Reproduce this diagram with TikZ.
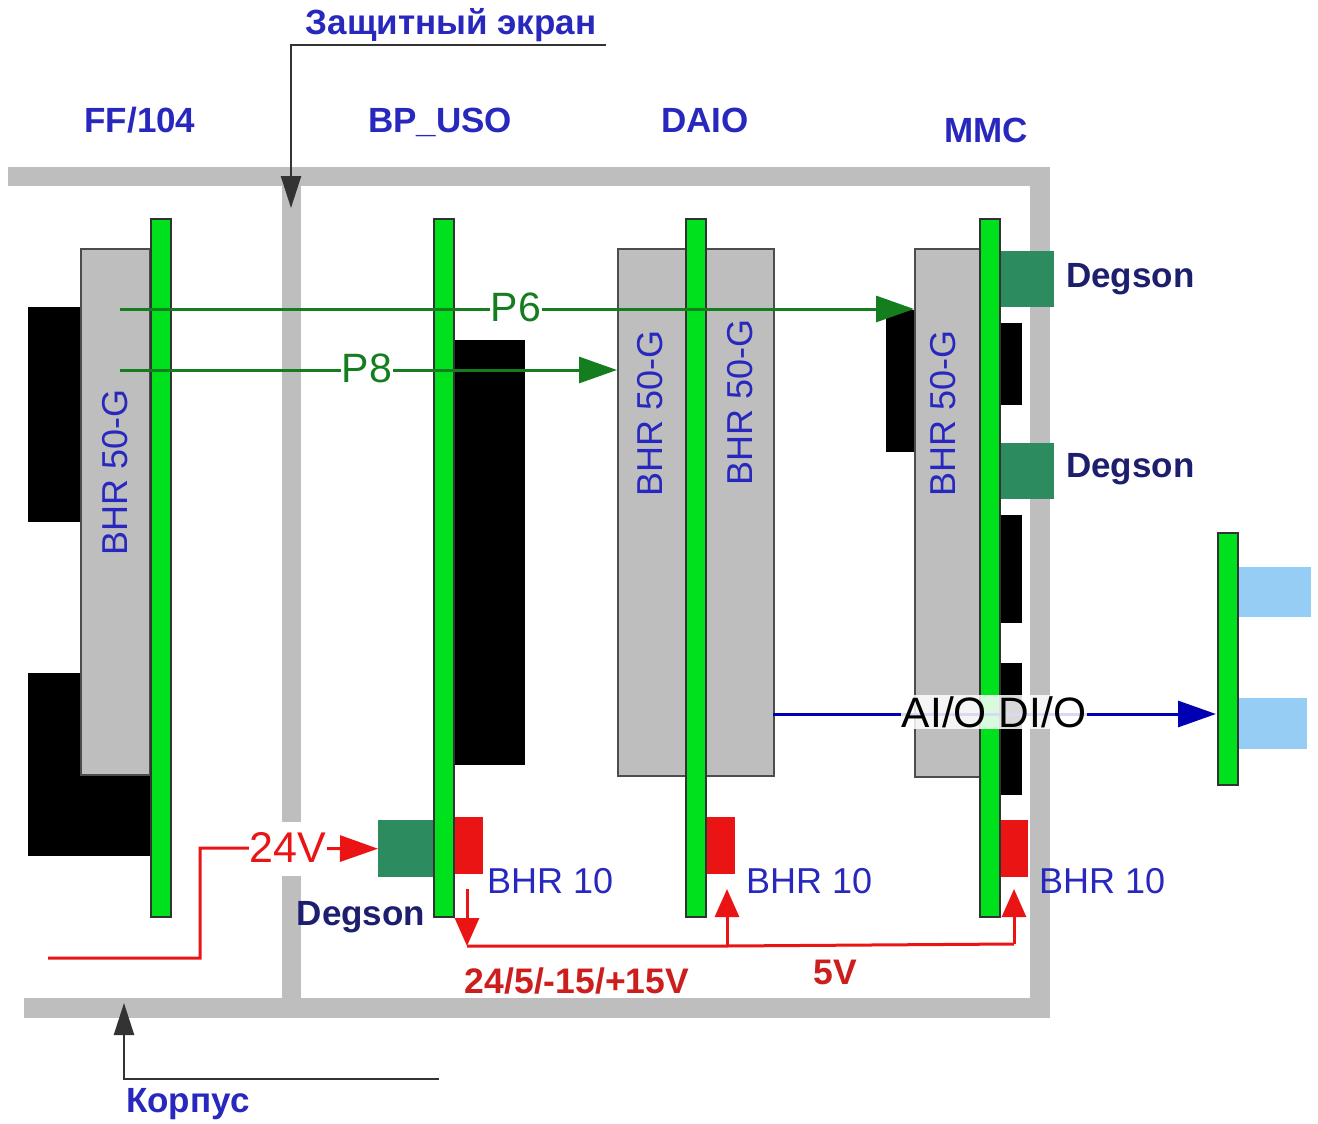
\documentclass[tikz,border=0pt]{standalone}
\usepackage{fontspec}
\setmainfont{Liberation Sans}
\usetikzlibrary{arrows.meta}
\definecolor{fr}{RGB}{190,190,190}
\definecolor{brd}{RGB}{0,225,30}
\definecolor{mod}{RGB}{190,190,190}
\definecolor{dg}{RGB}{45,140,95}
\definecolor{lb}{RGB}{150,205,245}
\definecolor{tblue}{RGB}{40,40,190}
\definecolor{nav}{RGB}{30,30,110}
\definecolor{dgreen}{RGB}{20,125,30}
\definecolor{rd}{RGB}{235,20,20}
\definecolor{drd}{RGB}{205,30,30}
\tikzset{
 x=1pt,y=-1pt,
 frameb/.style={fill=fr,draw=none},
 boardb/.style={fill=brd,draw=black!80,line width=2.2pt},
 modb/.style={fill=mod,draw=black!70,line width=1.6pt},
 blk/.style={fill=black,draw=none},
 dgb/.style={fill=dg,draw=none},
 rdb/.style={fill=rd,draw=none},
 lbb/.style={fill=lb,draw=none},
 ttl/.style={text=tblue,font=\bfseries\fontsize{35}{35}\selectfont,inner sep=0pt},
 bhr/.style={text=tblue,font=\fontsize{36}{36}\selectfont,inner sep=0pt,rotate=90},
 bhrh/.style={text=tblue,font=\fontsize{36}{36}\selectfont,inner sep=0pt,anchor=west},
 dgs/.style={text=nav,font=\bfseries\fontsize{35}{35}\selectfont,inner sep=0pt},
 rlab/.style={text=drd,font=\bfseries\fontsize{35.5}{35.5}\selectfont,inner sep=0pt},
 glab/.style={text=dgreen,font=\fontsize{41}{41}\selectfont,fill=white,inner sep=1pt},
 garr/.style={draw=dgreen,line width=3pt,-{Triangle[length=38pt,width=26pt]}},
 rarr/.style={draw=rd,line width=3pt,-{Triangle[length=28pt,width=24pt]}},
 rline/.style={draw=rd,line width=3pt},
 barr/.style={draw=blue!70!black,line width=3pt,-{Triangle[length=38pt,width=26pt]}},
 karr/.style={draw=black!80,line width=2.4pt,-{Triangle[length=32pt,width=20pt]}},
}
\begin{document}
\begin{tikzpicture}
\useasboundingbox (0,0) rectangle (1318,1124);
\fill[white] (0,0) rectangle (1318,1124);
% frame
\path[frameb] (8,167) rectangle (1050,186);
\path[frameb] (1030,167) rectangle (1050,1018);
\path[frameb] (24,998) rectangle (1050,1018);
\path[frameb] (282,186) rectangle (301,822);
\path[frameb] (282,876) rectangle (301,998);
% black parts
\path[blk] (28,307) rectangle (82,522);
\path[blk] (28,673) rectangle (150,856);
\path[blk] (445,340) rectangle (525,765);
\path[blk] (886,310) rectangle (916,452);
\path[blk] (995,323) rectangle (1022,405);
\path[blk] (995,515) rectangle (1022,623);
\path[blk] (995,663) rectangle (1022,795);
% modules
\node[modb,anchor=north west,inner sep=0pt] (m1) at (80,248) {\tikz\path (0,0) rectangle (69,526);};
\node[modb,anchor=north west,inner sep=0pt] (m2) at (617,248) {\tikz\path (0,0) rectangle (156,527);};
\node[modb,anchor=north west,inner sep=0pt] (m3) at (914,248) {\tikz\path (0,0) rectangle (68,528);};
% Degson, red, blue
\node[dgb,anchor=north west,inner sep=0pt] (d1) at (1000,251) {\tikz\path (0,0) rectangle (54,56);};
\node[dgb,anchor=north west,inner sep=0pt] (d2) at (1000,443) {\tikz\path (0,0) rectangle (54,56);};
\node[dgb,anchor=north west,inner sep=0pt] (d3) at (378,820) {\tikz\path (0,0) rectangle (56,57);};
\node[rdb,anchor=north west,inner sep=0pt] (r1) at (453,817) {\tikz\path (0,0) rectangle (30,57);};
\node[rdb,anchor=north west,inner sep=0pt] (r2) at (706,817) {\tikz\path (0,0) rectangle (29,57);};
\node[rdb,anchor=north west,inner sep=0pt] (r3) at (998,820) {\tikz\path (0,0) rectangle (30,57);};
\node[lbb,anchor=north west,inner sep=0pt] (l1) at (1238,567) {\tikz\path (0,0) rectangle (73,50);};
\node[lbb,anchor=north west,inner sep=0pt] (l2) at (1238,698) {\tikz\path (0,0) rectangle (69,51);};
% boards
\node[boardb,anchor=north west,inner sep=0pt] (b1) at (150,218) {\tikz\path (0,0) rectangle (20,698);};
\node[boardb,anchor=north west,inner sep=0pt] (b2) at (433,218) {\tikz\path (0,0) rectangle (20,698);};
\node[boardb,anchor=north west,inner sep=0pt] (b3) at (685,218) {\tikz\path (0,0) rectangle (20,698);};
\node[boardb,anchor=north west,inner sep=0pt] (b4) at (979,218) {\tikz\path (0,0) rectangle (20,698);};
\node[boardb,anchor=north west,inner sep=0pt] (b5) at (1217,532) {\tikz\path (0,0) rectangle (20,252);};
% titles
\node[ttl] (t1) at (140,120) {FF/104};
\node[ttl] (t2) at (440,122) {BP\_USO};
\node[ttl] (t3) at (705,120) {DAIO};
\node[ttl] (t4) at (986,130) {MMC};
\node[ttl] (t5) at (451,25) {Защитный экран};
\node[ttl,anchor=west] (t6) at (126,1104) {Корпус};
% BHR labels
\node[bhr] (h1) at (115,472) {BHR 50-G};
\node[bhr] (h2) at (650,413) {BHR 50-G};
\node[bhr] (h3) at (740,402) {BHR 50-G};
\node[bhr] (h4) at (943,413) {BHR 50-G};
\node[bhrh] (h5) at (487,881) {BHR 10};
\node[bhrh] (h6) at (746,881) {BHR 10};
\node[bhrh] (h7) at (1039,881) {BHR 10};
\node[dgs,anchor=west] (g1) at (1066,279) {Degson};
\node[dgs,anchor=west] (g2) at (1066,469) {Degson};
\node[dgs] (g3) at (361,917) {Degson};
% green arrows
\coordinate (p6s) at (120,309);
\coordinate (p6e) at (914,309);
\coordinate (p8s) at (120,370);
\coordinate (p8e) at (617,370);
\draw[garr] (p6s) -- (p6e);
\draw[garr] (p8s) -- (p8e);
\node[glab] (p6) at (516,307) {P6};
\node[glab] (p8) at (367,368) {P8};
% blue
\coordinate (bs) at (773,714);
\draw[barr] (bs) -- (1216,714);
\node[text=black,font=\fontsize{42.5}{42.5}\selectfont,fill=white,fill opacity=.85,text opacity=1,inner sep=1pt] (aio) at (994,712) {AI/O DI/O};
% pointers
\coordinate (sc1) at (606,45);
\coordinate (sc2) at (291,45);
\coordinate (sc3) at (291,208);
\draw[karr] (sc1) -- (sc2) -- (sc3);
\coordinate (k1) at (439,1079);
\coordinate (k2) at (124,1079);
\coordinate (k3) at (124,1003);
\draw[karr] (k1) -- (k2) -- (k3);
% red
\coordinate (a) at (48,958);
\coordinate (c) at (200,958);
\coordinate (e) at (200,848);
\draw[rarr,-{Triangle[length=38pt,width=26pt]}] (a) -- (c) -- (e) -- (d3.west);
\node[text=rd,font=\fontsize{43}{43}\selectfont,fill=white,inner sep=1pt] (v24) at (288,847) {24V};
\coordinate (j1) at (467,946);
\coordinate (j2) at (727,946);
\coordinate (j3) at (1014,944);
\draw[rline] (j1) -- (j2) -- (j3);
\draw[rarr] (467,889) -- (467,946);
\draw[rarr] (j2) -- (727,889);
\draw[rarr] (j3) -- (1014,889);
\node[rlab] (v1) at (577,981) {24/5/-15/+15V};
\node[rlab] (v2) at (835,972) {5V};
\end{tikzpicture}
\end{document}
